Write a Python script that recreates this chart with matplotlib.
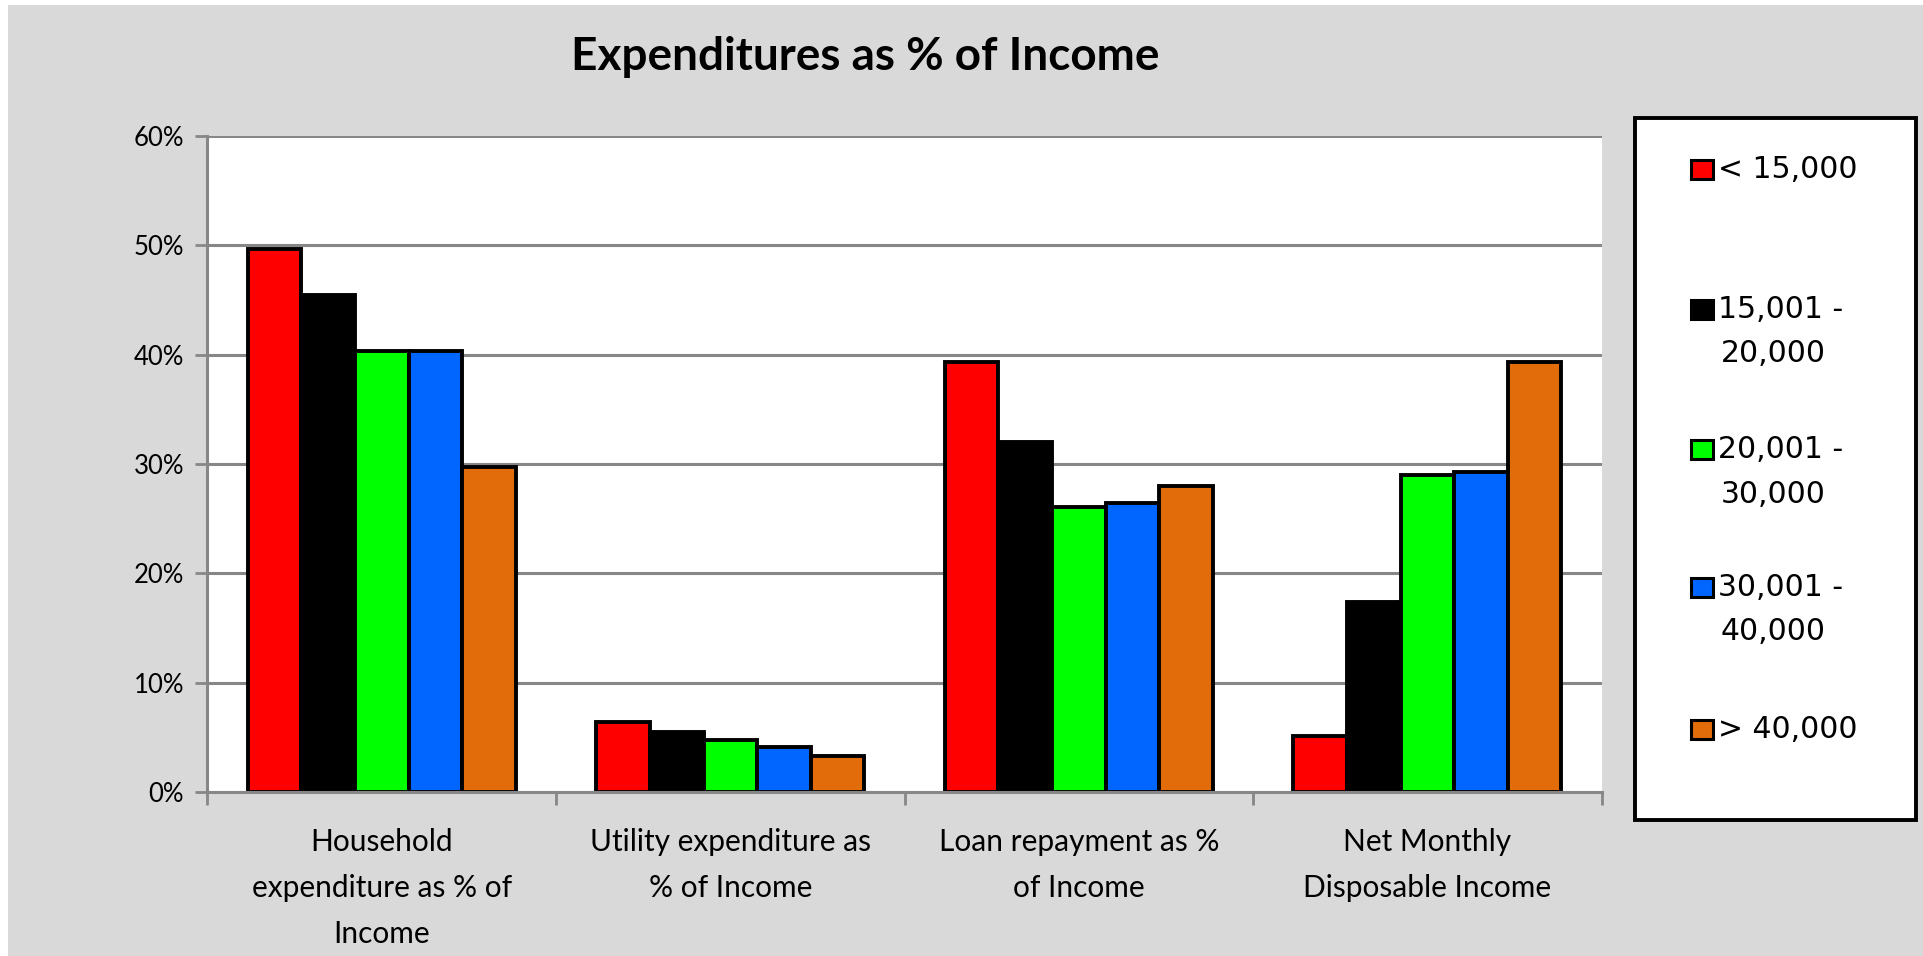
import matplotlib
matplotlib.use("Agg")
import matplotlib.pyplot as plt
from matplotlib.patches import Rectangle
import numpy as np

# ---- data ----
categories = ["Household\nexpenditure as % of\nIncome",
              "Utility expenditure as\n% of Income",
              "Loan repayment as %\nof Income",
              "Net Monthly\nDisposable Income"]
series_labels = ["< 15,000", "15,001 -\n20,000", "20,001 -\n30,000",
                 "30,001 -\n40,000", "> 40,000"]
series_colors = ["#FF0000", "#000000", "#00FF00", "#0066FF", "#E36C0A"]
lt_15000 = [49.7, 6.4, 39.3, 5.1]
from_15001_to_20000 = [45.5, 5.5, 32.0, 17.4]
from_20001_to_30000 = [40.3, 4.8, 26.1, 29.0]
from_30001_to_40000 = [40.3, 4.15, 26.4, 29.3]
gt_40000 = [29.7, 3.25, 28.0, 39.35]
y_ticks = [0, 10, 20, 30, 40, 50, 60]
y_tick_labels = ["0%", "10%", "20%", "30%", "40%", "50%", "60%"]
title = "Expenditures as % of Income"

series_values = [lt_15000, from_15001_to_20000, from_20001_to_30000,
                 from_30001_to_40000, gt_40000]

W, H = 1924, 956
fig = plt.figure(figsize=(W / 100, H / 100), dpi=100, facecolor="white")

# grey chart background
fig.patches.append(Rectangle((8 / W, 0), (W - 8) / W, (H - 5) / H,
                             transform=fig.transFigure, facecolor="#D9D9D9",
                             edgecolor="none", zorder=-10))

grid_c = "#878787"
ax_l, ax_r, ax_t, ax_b = 207.5, 1601.7, 136.0, 792.0
ax = fig.add_axes([ax_l / W, 1 - ax_b / H, (ax_r - ax_l) / W, (ax_b - ax_t) / H])
ax.set_zorder(1)
ax.set_facecolor("white")

n = len(series_values)
bw = 1 / (n + 1.5)
x = np.arange(len(categories))
for i, (vals, col) in enumerate(zip(series_values, series_colors)):
    ax.bar(x + (i - (n - 1) / 2) * bw, vals, width=bw, color=col,
           edgecolor="black", linewidth=2.8, zorder=3)

ax.set_xlim(-0.5, len(categories) - 0.5)
ax.set_ylim(0, 60)
ax.set_yticks(y_ticks)
ax.set_yticklabels(y_tick_labels, fontsize=18.5, fontfamily="Lato")
ax.yaxis.grid(True, color=grid_c, linewidth=2.2, zorder=1)
ax.set_axisbelow(True)

ax.set_xticks(np.arange(len(categories) + 1) - 0.5)
ax.set_xticklabels([])
ax.set_xticks(x, minor=True)
ax.set_xticklabels(categories, minor=True, fontsize=21.5, fontfamily="Lato",
                   linespacing=1.78)
ax.tick_params(axis="x", which="minor", length=0, pad=26)
ax.tick_params(axis="x", which="major", length=9, width=2, color=grid_c,
               direction="out")
ax.tick_params(axis="y", length=9, width=2, color=grid_c, pad=8)

for s in ["top", "right"]:
    ax.spines[s].set_visible(False)
for s in ["left", "bottom"]:
    ax.spines[s].set_color(grid_c)
    ax.spines[s].set_linewidth(2.2)
    ax.spines[s].set_zorder(4)

# title
fig.text(865.6 / W, 1 - 70 / H, title, ha="center", va="baseline",
         fontsize=33, fontweight="bold", fontfamily="Lato")

# legend box (drawn manually to match the Excel layout)
lx0, lx1, ly0, ly1 = 1635, 1916, 118, 820
fig.patches.append(Rectangle((lx0 / W, 1 - ly1 / H), (lx1 - lx0) / W,
                             (ly1 - ly0) / H, transform=fig.transFigure,
                             facecolor="white", edgecolor="black",
                             linewidth=2.8, zorder=5))
entry_y = [169, 309, 449, 587, 729]
line_gap = 45
for lab, col, yc in zip(series_labels, series_colors, entry_y):
    fig.patches.append(Rectangle((1691 / W, 1 - (yc + 10) / H), 22 / W, 19 / H,
                                 transform=fig.transFigure, facecolor=col,
                                 edgecolor="black", linewidth=2.2, zorder=6))
    lines = lab.split("\n")
    for k, ln in enumerate(lines):
        xt = 1718 if k == 0 else 1721
        fig.text(xt / W, 1 - (yc + k * line_gap) / H, ln, ha="left",
                 va="center", fontsize=21.5, fontfamily="DejaVu Sans", zorder=7)

fig.savefig("out.png", dpi=100, facecolor=fig.get_facecolor())
